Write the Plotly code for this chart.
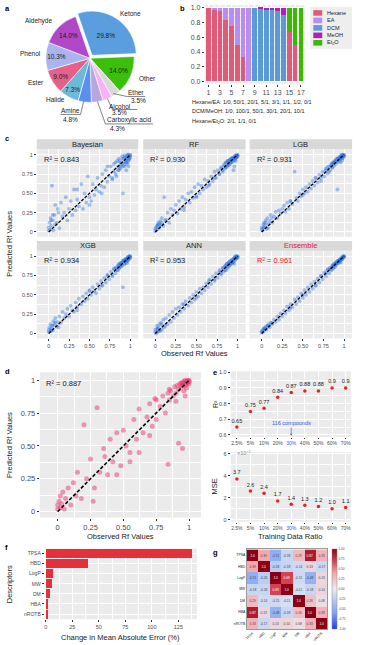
import plotly.graph_objects as go

W, H = 369, 645

# ---------------- data ----------------
# a: compound classes (%)
classes = ["Ketone", "Other", "Ether", "Alcohol", "Carboxylic acid",
           "Amine", "Halide", "Ester", "Phenol", "Aldehyde"]
class_pct = [29.8, 14.0, 3.5, 3.5, 4.3, 4.8, 7.3, 9.0, 10.3, 14.0]

# b: solvent fractions for the 17 eluent systems
mix_id = list(range(1, 18))
frac_hexane = [1.0, 0.98, 0.952, 0.833, 0.75, 0.5, 0.333, 0, 0, 0, 0, 0, 0, 0, 0.667, 0.5, 0]
frac_ea = [0, 0.02, 0.048, 0.167, 0.25, 0.5, 0.667, 1.0, 0, 0, 0, 0, 0, 0, 0, 0, 0]
frac_dcm = [0, 0, 0, 0, 0, 0, 0, 0, 1.0, 0.99, 0.98, 0.968, 0.952, 0.909, 0, 0, 0]
frac_meoh = [0, 0, 0, 0, 0, 0, 0, 0, 0, 0.01, 0.02, 0.032, 0.048, 0.091, 0, 0, 0]
frac_et2o = [0, 0, 0, 0, 0, 0, 0, 0, 0, 0, 0, 0, 0, 0, 0.333, 0.5, 1.0]

# c: observed vs predicted Rf (test set, shared observed values)
obs_c = [
    0.00, 0.00, 0.01, 0.02, 0.02, 0.03, 0.04, 0.05, 0.06, 0.07,
    0.08, 0.10, 0.11, 0.13, 0.15, 0.17, 0.19, 0.21, 0.23, 0.25,
    0.27, 0.29, 0.31, 0.33, 0.35, 0.37, 0.40, 0.42, 0.44, 0.46,
    0.48, 0.50, 0.52, 0.54, 0.56, 0.58, 0.60, 0.62, 0.64, 0.66,
    0.68, 0.70, 0.72, 0.74, 0.76, 0.78, 0.80, 0.82, 0.83, 0.85,
    0.86, 0.87, 0.88, 0.89, 0.90, 0.91, 0.92, 0.93, 0.94, 0.95,
    0.95, 0.96, 0.97, 0.97, 0.98, 0.98, 0.99, 0.99, 1.00, 1.00,
    0.96, 0.93,
    0.78, 0.80, 0.82, 0.84, 0.85, 0.86, 0.87, 0.88, 0.89, 0.90,
    0.91, 0.92, 0.93, 0.94, 0.95, 0.96, 0.97, 0.98, 0.99, 1.00,
    0.03, 0.05, 0.08, 0.12, 0.35, 0.50, 0.65, 0.72]
pred_bayes = [
    0.02, 0.06, 0.12, 0.03, 0.18, 0.08, 0.60, 0.15, 0.02, 0.22,
    0.35, 0.12, 0.30, 0.05, 0.38, 0.20, 0.25, 0.45, 0.15, 0.30,
    0.40, 0.22, 0.55, 0.28, 0.42, 0.33, 0.62, 0.30, 0.50, 0.38,
    0.72, 0.45, 0.40, 0.62, 0.48, 0.55, 0.70, 0.52, 0.60, 0.75,
    0.58, 0.80, 0.65, 0.72, 0.85, 0.68, 0.78, 0.90, 0.72, 0.85,
    0.80, 0.92, 0.82, 0.88, 0.95, 0.50, 0.90, 0.85, 0.97, 0.92,
    0.80, 0.98, 0.90, 1.00, 0.95, 0.85, 0.98, 0.93, 1.00, 0.96,
    0.88, 0.99,
    0.70, 0.88, 0.75, 0.92, 0.80, 0.95, 0.83, 0.90, 0.86, 0.98,
    0.85, 0.95, 0.88, 0.96, 0.90, 0.93, 1.00, 0.94, 0.97, 0.99,
    0.15, 0.22, 0.10, 0.25, 0.55, 0.35, 0.50, 0.85]
pred_rf = [
    0.01, 0.04, 0.06, 0.08, 0.03, 0.10, 0.12, 0.05, 0.14, 0.09,
    0.18, 0.08, 0.45, 0.16, 0.25, 0.12, 0.30, 0.22, 0.28, 0.35,
    0.24, 0.40, 0.30, 0.45, 0.32, 0.42, 0.50, 0.38, 0.52, 0.44,
    0.58, 0.46, 0.62, 0.50, 0.60, 0.55, 0.68, 0.58, 0.66, 0.62,
    0.72, 0.66, 0.78, 0.70, 0.80, 0.75, 0.84, 0.78, 0.86, 0.82,
    0.90, 0.84, 0.92, 0.86, 0.93, 0.88, 0.95, 0.90, 0.96, 0.92,
    0.80, 0.97, 0.94, 0.99, 0.96, 0.92, 0.99, 0.97, 1.00, 0.98,
    0.85, 0.95,
    0.75, 0.82, 0.80, 0.88, 0.84, 0.90, 0.86, 0.92, 0.87, 0.93,
    0.90, 0.94, 0.91, 0.96, 0.93, 0.97, 0.95, 0.99, 0.97, 0.99,
    0.08, 0.10, 0.12, 0.15, 0.28, 0.45, 0.60, 0.70]
pred_lgb = [
    0.03, 0.06, 0.02, 0.10, 0.05, 0.12, 0.08, 0.15, 0.04, 0.18,
    0.10, 0.14, 0.22, 0.12, 0.20, 0.26, 0.18, 0.28, 0.24, 0.30,
    0.34, 0.26, 0.38, 0.30, 0.40, 0.36, 0.78, 0.44, 0.40, 0.50,
    0.46, 0.55, 0.50, 0.58, 0.52, 0.62, 0.56, 0.66, 0.60, 0.70,
    0.64, 0.74, 0.70, 0.78, 0.72, 0.82, 0.76, 0.85, 0.80, 0.88,
    0.83, 0.90, 0.86, 0.92, 0.88, 0.94, 0.55, 0.95, 0.92, 0.97,
    0.94, 0.98, 0.95, 1.00, 0.97, 0.93, 0.99, 0.96, 1.00, 0.98,
    0.90, 0.95,
    0.80, 0.84, 0.78, 0.86, 0.88, 0.84, 0.90, 0.89, 0.92, 0.91,
    0.95, 0.90, 0.96, 0.93, 0.97, 0.98, 0.96, 1.00, 0.98, 0.99,
    0.06, 0.12, 0.05, 0.18, 0.40, 0.48, 0.70, 0.66]
pred_xgb = [
    0.02, 0.05, 0.08, 0.03, 0.12, 0.06, 0.10, 0.04, 0.16, 0.12,
    0.20, 0.09, 0.15, 0.22, 0.14, 0.28, 0.20, 0.25, 0.32, 0.22,
    0.36, 0.30, 0.28, 0.40, 0.34, 0.45, 0.38, 0.48, 0.42, 0.52,
    0.45, 0.56, 0.50, 0.60, 0.55, 0.52, 0.64, 0.58, 0.68, 0.62,
    0.72, 0.66, 0.76, 0.70, 0.80, 0.74, 0.83, 0.78, 0.86, 0.82,
    0.88, 0.85, 0.90, 0.87, 0.92, 0.60, 0.94, 0.90, 0.95, 0.93,
    0.97, 0.94, 0.98, 0.96, 0.99, 0.95, 1.00, 0.97, 0.99, 1.00,
    0.91, 0.94,
    0.76, 0.84, 0.85, 0.82, 0.88, 0.90, 0.85, 0.91, 0.92, 0.88,
    0.94, 0.95, 0.90, 0.96, 0.97, 0.94, 0.99, 0.97, 1.00, 0.98,
    0.04, 0.10, 0.14, 0.08, 0.30, 0.55, 0.62, 0.75]
pred_ann = [
    0.02, 0.05, 0.00, 0.06, 0.10, 0.02, 0.08, 0.12, 0.04, 0.14,
    0.05, 0.18, 0.08, 0.20, 0.12, 0.24, 0.15, 0.28, 0.20, 0.32,
    0.24, 0.34, 0.28, 0.38, 0.32, 0.42, 0.36, 0.46, 0.40, 0.50,
    0.44, 0.54, 0.48, 0.58, 0.52, 0.60, 0.56, 0.65, 0.60, 0.70,
    0.64, 0.74, 0.68, 0.78, 0.72, 0.82, 0.76, 0.85, 0.80, 0.88,
    0.82, 0.90, 0.85, 0.92, 0.88, 0.94, 0.90, 0.95, 0.92, 0.97,
    0.93, 0.98, 0.95, 0.99, 0.97, 1.00, 0.98, 0.99, 1.00, 0.99,
    0.90, 0.91,
    0.80, 0.78, 0.84, 0.86, 0.82, 0.88, 0.90, 0.86, 0.92, 0.91,
    0.89, 0.94, 0.95, 0.92, 0.96, 0.97, 0.99, 0.97, 1.00, 0.98,
    0.06, 0.03, 0.12, 0.10, 0.38, 0.46, 0.68, 0.70]
pred_ens = [
    0.01, 0.03, 0.04, 0.06, 0.02, 0.07, 0.06, 0.09, 0.05, 0.10,
    0.12, 0.08, 0.14, 0.12, 0.18, 0.15, 0.22, 0.18, 0.26, 0.22,
    0.30, 0.26, 0.35, 0.30, 0.38, 0.34, 0.44, 0.38, 0.47, 0.42,
    0.52, 0.46, 0.56, 0.50, 0.60, 0.54, 0.64, 0.58, 0.67, 0.62,
    0.71, 0.66, 0.75, 0.70, 0.79, 0.74, 0.83, 0.78, 0.85, 0.82,
    0.88, 0.84, 0.90, 0.86, 0.92, 0.89, 0.94, 0.91, 0.95, 0.93,
    0.96, 0.95, 0.97, 0.98, 0.99, 0.96, 1.00, 0.98, 0.99, 1.00,
    0.92, 0.94,
    0.78, 0.82, 0.84, 0.83, 0.86, 0.88, 0.86, 0.90, 0.88, 0.91,
    0.92, 0.91, 0.94, 0.93, 0.95, 0.97, 0.96, 0.98, 0.99, 1.00,
    0.05, 0.07, 0.10, 0.14, 0.33, 0.50, 0.62, 0.74]
model_names = ["Bayesian", "RF", "LGB", "XGB", "ANN", "Ensemble"]
model_r2 = ["0.843", "0.930", "0.931", "0.934", "0.953", "0.961"]

# d: single model
obs_d = [
    0.00, 0.00, 0.01, 0.02, 0.02, 0.03, 0.04, 0.05, 0.06, 0.08,
    0.10, 0.12, 0.14, 0.15, 0.18, 0.20, 0.22, 0.25, 0.28, 0.30,
    0.32, 0.35, 0.38, 0.40, 0.42, 0.45, 0.48, 0.50, 0.52, 0.55,
    0.58, 0.60, 0.62, 0.65, 0.68, 0.70, 0.72, 0.74, 0.75, 0.78,
    0.80, 0.82, 0.84, 0.85, 0.86, 0.88, 0.89, 0.90, 0.91, 0.92,
    0.93, 0.94, 0.95, 0.95, 0.96, 0.97, 0.97, 0.98, 0.98, 0.99,
    0.99, 1.00, 1.00, 1.00, 0.92, 0.96, 0.84, 0.94, 0.98, 0.90,
    0.36, 0.45, 0.55, 0.27, 0.62, 0.70, 0.97, 0.95, 0.75, 0.85]
pred_d = [
    0.02, 0.05, 0.08, 0.03, 0.12, 0.06, 0.15, 0.02, 0.10, 0.18,
    0.05, 0.22, 0.12, 0.30, 0.10, 0.66, 0.25, 0.40, 0.18, 0.79,
    0.30, 0.48, 0.28, 0.55, 0.38, 0.60, 0.35, 0.62, 0.50, 0.45,
    0.70, 0.55, 0.78, 0.60, 0.72, 0.82, 0.65, 0.86, 0.70, 0.80,
    0.88, 0.75, 0.90, 0.85, 0.92, 0.88, 0.95, 0.90, 0.96, 0.93,
    0.97, 0.95, 0.98, 0.48, 0.99, 0.96, 1.00, 0.97, 0.99, 1.00,
    0.98, 1.00, 0.99, 0.97, 0.52, 0.92, 0.36, 0.98, 0.94, 0.84,
    0.42, 0.28, 0.38, 0.08, 0.45, 0.58, 0.88, 0.96, 0.85, 0.93]

# e: training data ratio
ratios = ["2.5%", "5%", "10%", "20%", "30%", "40%", "50%", "60%", "70%"]
r2_vals = [0.65, 0.75, 0.77, 0.84, 0.87, 0.88, 0.88, 0.90, 0.90]
mse_vals = [3.7, 2.6, 2.4, 1.7, 1.4, 1.3, 1.2, 1.0, 1.1]

# f: descriptor importance
descriptors = ["TPSA", "HBD", "LogP", "MW", "DM", "HBA", "nROTB"]
mae_change = [138, 40, 7, 6, 3.5, 1.5, 1.8]

# g: correlation matrix
corr = [
    [1.0, 0.39, -0.51, -0.18, 0.29, 0.87, 0.33],
    [0.39, 1.0, -0.26, -0.18, -0.14, 0.13, -0.17],
    [-0.51, -0.26, 1.0, 0.69, -0.15, -0.48, 0.13],
    [-0.18, -0.18, 0.69, 1.0, -0.11, -0.18, 0.14],
    [0.29, -0.14, -0.15, -0.11, 1.0, 0.26, 0.08],
    [0.87, 0.13, -0.48, -0.18, 0.26, 1.0, 0.33],
    [0.33, -0.17, 0.13, 0.14, 0.08, 0.33, 1.0],
]

# ---------------- helpers ----------------
FONT = "Liberation Sans"
TXT = "#1a1a1a"
TICK = "#4d4d4d"


def dom_x(x0, x1):
    return [x0 / W, x1 / W]


def dom_y(y0, y1):
    return [1 - y1 / H, 1 - y0 / H]


annotations = []
shapes = []


def note(x, y, text, size=6.5, color=TXT, xanchor="center", yanchor="middle", **kw):
    annotations.append(dict(x=x / W, y=1 - y / H, xref="paper", yref="paper", text=text,
                            showarrow=False, font=dict(size=size, color=color, family=FONT),
                            xanchor=xanchor, yanchor=yanchor, **kw))


def seg(x0, y0, x1, y1, color="#333333", width=0.6):
    shapes.append(dict(type="line", xref="paper", yref="paper", x0=x0 / W, y0=1 - y0 / H,
                       x1=x1 / W, y1=1 - y1 / H, line=dict(color=color, width=width)))


def box(x0, y0, x1, y1, fill):
    shapes.append(dict(type="rect", xref="paper", yref="paper", x0=x0 / W, y0=1 - y1 / H,
                       x1=x1 / W, y1=1 - y0 / H, fillcolor=fill, line=dict(width=0), layer="below"))


def gg(domain, anchor, size=5.5, **kw):
    ax = dict(domain=domain, anchor=anchor, showgrid=True, gridcolor="white", gridwidth=0.7,
              zeroline=False, showline=False, ticks="outside", ticklen=2, tickwidth=0.5,
              tickcolor="#333333", tickfont=dict(size=size, color=TICK, family=FONT))
    ax.update(kw)
    return ax


def minor(vals):
    return dict(tickvals=vals, showgrid=True, gridcolor="white", gridwidth=0.35, ticks="")


fig = go.Figure()
axes = {}

# ---------------- a: pie ----------------
pie_colors = ["#5a9ee0", "#3cbf0a", "#d9d9d9", "#f7b2f7", "#b9a6df",
              "#5b8ef0", "#6cbad8", "#e8608a", "#aab4ef", "#b048c8"]
inside_text = [f"{v:.1f}%" if v > 5 else "" for v in class_pct]
fig.add_trace(go.Pie(labels=classes, values=class_pct, sort=False, direction="clockwise",
                     rotation=-19, pull=[0.08] + [0] * 9,
                     marker=dict(colors=pie_colors, line=dict(color="white", width=0.6)),
                     text=inside_text, textinfo="text", textposition="inside",
                     insidetextorientation="horizontal",
                     textfont=dict(size=6.5, color=TXT, family=FONT),
                     domain=dict(x=dom_x(41.5, 137.5), y=dom_y(8.5, 104.5)),
                     showlegend=False, hoverinfo="label+percent"))
note(130, 12, "Ketone")
note(38, 19, "Aldehyde")
note(30, 52, "Phenol")
note(35, 81, "Ester")
note(55, 98, "Halide")
note(147, 77, "Other")
# small slices with leader lines
seg(113, 92, 127, 95); seg(127, 95, 145, 95)
note(136, 91, "Ether"); note(138, 99, "3.5%")
seg(107, 97, 112, 108); seg(112, 108, 137, 108)
note(120, 104.5, "Alcohol"); note(119, 111.5, "3.5%")
seg(97, 100, 105, 122.5); seg(105, 122.5, 153, 122.5)
note(129, 118.8, "Carboxylic acid"); note(117, 127.5, "4.3%")
seg(83, 100, 80, 113); seg(80, 113, 60, 113)
note(70, 109, "Amine"); note(70, 118, "4.8%")

# ---------------- b: stacked bars ----------------
solvents = [("Hexane", frac_hexane, "#e05a7a"), ("EA", frac_ea, "#b88cf0"),
            ("DCM", frac_dcm, "#5b9bd5"), ("MeOH", frac_meoh, "#b51fb5"),
            ("Et<sub>2</sub>O", frac_et2o, "#3cb800")]
for name, vals, col in solvents:
    fig.add_trace(go.Bar(x=mix_id, y=vals, name=name, marker=dict(color=col, line=dict(width=0)),
                         width=0.82, xaxis="x", yaxis="y", showlegend=False))
axes["xaxis"] = gg(dom_x(205, 305), "y", size=7, range=[0.4, 17.6],
                   tickvals=list(range(1, 18, 2)), minor=minor(list(range(2, 17, 2))))
axes["yaxis"] = gg(dom_y(3, 82), "x", size=7, range=[-0.03, 1.04],
                   tickvals=[0, 0.2, 0.4, 0.6, 0.8, 1.0],
                   ticktext=["0.0", "0.2", "0.4", "0.6", "0.8", "1.0"],
                   minor=minor([0.1, 0.3, 0.5, 0.7, 0.9]))
# legend drawn by hand to fit the narrow space
box(311, 5, 353, 47, "#EEEEEE")
for k, (name, vals, col) in enumerate(solvents):
    yc = 11 + k * 7.5
    box(314, yc - 2.8, 323, yc + 2.8, col)
    note(326, yc, name, size=5.5, xanchor="left")
note(190, 100, "Hexane/EA: 1/0, 50/1, 20/1, 5/1, 3/1, 1/1, 1/2, 0/1", size=5.5, xanchor="left")
note(190, 110, "DCM/MeOH: 1/0, 100/1, 50/1, 30/1, 20/1, 10/1", size=5.5, xanchor="left")
note(190, 120, "Hexane/Et<sub>2</sub>O: 2/1, 1/1, 0/1", size=5.5, xanchor="left")

# ---------------- c: facet scatter ----------------
col_x = [(36, 138), (143, 246), (250, 353)]
row_y = [(148, 236), (250, 338)]
preds = [pred_bayes, pred_rf, pred_lgb, pred_xgb, pred_ann, pred_ens]
for i, (name, pred, r2) in enumerate(zip(model_names, preds, model_r2)):
    r, c = divmod(i, 3)
    n = i + 2
    red = name == "Ensemble"
    fig.add_trace(go.Scatter(x=obs_c, y=pred, mode="markers", xaxis=f"x{n}", yaxis=f"y{n}",
                             marker=dict(size=3.8, color="rgba(40,110,228,0.4)", line=dict(width=0)),
                             showlegend=False))
    fig.add_trace(go.Scatter(x=[0, 1], y=[0, 1], mode="lines", xaxis=f"x{n}", yaxis=f"y{n}",
                             line=dict(color="black", width=1.3, dash="3px,1.5px"), showlegend=False))
    axes[f"xaxis{n}"] = gg(dom_x(*col_x[c]), f"y{n}", range=[-0.146, 1.098],
                           tickvals=[0, 0.25, 0.5, 0.75, 1], ticktext=["0", "0.25", "0.50", "0.75", "1"],
                           minor=minor([0.125, 0.375, 0.625, 0.875]),
                           showticklabels=(r == 1), ticks="outside" if r == 1 else "")
    axes[f"yaxis{n}"] = gg(dom_y(*row_y[r]), f"x{n}", range=[-0.064, 1.07],
                           tickvals=[0, 0.25, 0.5, 0.75, 1], ticktext=["0", "0.25", "0.50", "0.75", "1"],
                           minor=minor([0.125, 0.375, 0.625, 0.875]),
                           showticklabels=(c == 0), ticks="outside" if c == 0 else "")
    x0, x1 = col_x[c]
    y0 = row_y[r][0]
    box(x0, y0 - 10, x1, y0, "#D9D9D9")
    note((x0 + x1) / 2, y0 - 5, name, size=7.5, color="#e8202a" if red else TXT)
    note(x0 + 5, y0 + 10, f"R² = {r2}", size=7.5, xanchor="left", color="#e8202a" if red else TXT)
note(195, 353, "Observed Rf Values", size=7.5)
note(9, 243, "Predicted Rf Values", size=7.5, textangle=-90)

# ---------------- d: scatter ----------------
fig.add_trace(go.Scatter(x=obs_d, y=pred_d, mode="markers", xaxis="x8", yaxis="y8",
                         marker=dict(size=5, color="rgba(232,40,100,0.45)", line=dict(width=0)),
                         showlegend=False))
fig.add_trace(go.Scatter(x=[0, 1], y=[0, 1], mode="lines", xaxis="x8", yaxis="y8",
                         line=dict(color="black", width=1.6, dash="3.5px,2px"), showlegend=False))
axes["xaxis8"] = gg(dom_x(39, 201), "y8", size=7.5, range=[-0.136, 1.09],
                    tickvals=[0, 0.25, 0.5, 0.75, 1], ticktext=["0", "0.25", "0.50", "0.75", "1"],
                    minor=minor([0.125, 0.375, 0.625, 0.875]))
axes["yaxis8"] = gg(dom_y(372, 518), "x8", size=7.5, range=[-0.045, 1.06],
                    tickvals=[0, 0.25, 0.5, 0.75, 1], ticktext=["0", "0.25", "0.50", "0.75", "1"],
                    minor=minor([0.125, 0.375, 0.625, 0.875]))
note(43, 383, "R² = 0.887", size=7.5, xanchor="left")
note(120, 537, "Observed Rf Values", size=7.5)
note(9, 445, "Predicted Rf Values", size=7.5, textangle=-90)

# ---------------- e: training ratio ----------------
ratio_ticks = [f'<span style="color:#3a5ce8">{t}</span>' if t == "30%" else t for t in ratios]
fig.add_trace(go.Scatter(x=ratios, y=r2_vals, mode="markers+text", xaxis="x9", yaxis="y9",
                         text=[f"{v:g}" for v in r2_vals], textposition="top center",
                         textfont=dict(size=5.5, color=TXT, family=FONT),
                         marker=dict(size=3.5, color="#e8202a"), showlegend=False))
fig.add_trace(go.Scatter(x=ratios, y=mse_vals, mode="markers+text", xaxis="x10", yaxis="y10",
                         text=[f"{v:.1f}" for v in mse_vals], textposition="top center",
                         textfont=dict(size=5.5, color=TXT, family=FONT),
                         marker=dict(size=3.5, color="#e8202a"), showlegend=False))
for n in (9, 10):
    axes[f"xaxis{n}"] = gg(dom_x(231, 352), f"y{n}", size=5, type="category", range=[-0.45, 8.4],
                           tickvals=ratios, ticktext=ratio_ticks, ticklen=1.5)
axes["yaxis9"] = gg(dom_y(371, 437), "x9", range=[0.587, 1.006],
                    tickvals=[0.6, 0.7, 0.8, 0.9, 1.0], ticktext=["0.6", "0.7", "0.8", "0.9", "1.0"],
                    minor=minor([0.65, 0.75, 0.85, 0.95]))
axes["yaxis10"] = gg(dom_y(452, 522), "x10", range=[-0.18, 6.18],
                     tickvals=[0, 2, 4, 6], minor=minor([1, 3, 5]))
annotations.append(dict(x=4, y=0.594, xref="x9", yref="y9", text="116 compounds", showarrow=True,
                        ax=0, ay=-13, arrowhead=2, arrowsize=0.6, arrowwidth=0.7, arrowcolor="#3a5ce8",
                        font=dict(size=5.5, color="#3a5ce8", family=FONT)))
note(235, 453, "×10<sup>−2</sup>", size=5.5, color="#8c8c8c", xanchor="left")
note(215, 404, "R²", size=7, textangle=-90)
note(215, 487, "MSE", size=7.5, textangle=-90)
note(291, 537, "Training Data Ratio", size=7.5)

# ---------------- f: descriptor bars ----------------
fig.add_trace(go.Bar(x=mae_change, y=descriptors, orientation="h", xaxis="x11", yaxis="y11",
                     width=0.9, marker=dict(color="#e3303b", line=dict(width=0)), showlegend=False))
axes["xaxis11"] = gg(dom_x(44, 197), "y11", range=[-1, 142.5], tickvals=[0, 25, 50, 75, 100, 125],
                     minor=minor([12.5, 37.5, 62.5, 87.5, 112.5, 137.5]))
axes["yaxis11"] = gg(dom_y(549, 620), "x11", type="category", range=[6.5, -0.5], size=5)
note(8, 585, "Descriptors", size=7.5, textangle=-90)
note(120, 638, "Change in Mean Absolute Error (%)", size=7.5)

# ---------------- g: heatmap ----------------
cell_text = [["1.0" if v == 1 else f"{v:.2f}" for v in row] for row in corr]
fig.add_trace(go.Heatmap(z=corr, x=descriptors, y=descriptors, xaxis="x12", yaxis="y12",
                         zmin=-1, zmax=1, text=cell_text, texttemplate="%{text}",
                         textfont=dict(size=3.2, family=FONT),
                         colorscale=[[0, "#1f3cff"], [0.2, "#7ea4f5"], [0.5, "#e8ecf2"],
                                     [0.7, "#f4a6aa"], [0.85, "#d2404e"], [1, "#8b0015"]],
                         colorbar=dict(x=333 / W, xanchor="left", y=1 - 590 / H, yanchor="middle",
                                       len=80, lenmode="pixels", thickness=5, outlinewidth=0.5,
                                       outlinecolor="#888888", xpad=0, ypad=0, ticklen=1.5,
                                       tickvals=[-1, -0.75, -0.5, -0.25, 0, 0.25, 0.5, 0.75, 1],
                                       ticktext=["-1.00", "-0.75", "-0.50", "-0.25", "0.00",
                                                 "0.25", "0.50", "0.75", "1.00"],
                                       tickfont=dict(size=3.2, color=TICK, family=FONT))))
axes["xaxis12"] = dict(domain=dom_x(247, 328), anchor="y12", showgrid=False, zeroline=False,
                       tickangle=-45, ticks="", showline=True, mirror=True, linecolor="#999999",
                       linewidth=0.6, tickfont=dict(size=3.4, color=TXT, family=FONT))
axes["yaxis12"] = dict(domain=dom_y(550, 630), anchor="x12", showgrid=False, zeroline=False,
                       autorange="reversed", ticks="", showline=True, mirror=True,
                       linecolor="#999999", linewidth=0.6, tickfont=dict(size=3.4, color=TXT, family=FONT))

# ---------------- panel letters ----------------
for letter, (x, y) in {"a": (2, 7), "b": (178, 7), "c": (2, 137), "d": (2, 371),
                       "e": (211, 372), "f": (2, 548), "g": (211, 553)}.items():
    note(x, y, f"<b>{letter}</b>", size=7.5, color="black", xanchor="left")

fig.update_layout(width=W, height=H, margin=dict(l=0, r=0, t=0, b=0),
                  paper_bgcolor="white", plot_bgcolor="#EBEBEB", barmode="stack",
                  showlegend=False, font=dict(family=FONT, color=TXT),
                  annotations=annotations, shapes=shapes, **axes)
# page body margin would shift the fixed-size figure by 8px
fig.write_html("out.html", config={"displayModeBar": False},
               post_script="document.body.style.margin='0px';")
